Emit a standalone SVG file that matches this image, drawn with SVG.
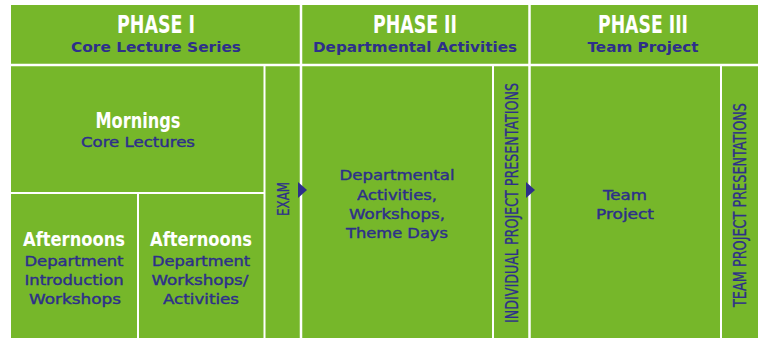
<svg xmlns="http://www.w3.org/2000/svg" width="760" height="338" viewBox="0 0 760 338">
<style>
.bg{fill:#76b72a}
.ln{stroke:#ffffff;stroke-width:2.5;fill:none}
.ln2{stroke:#ffffff;stroke-width:2;fill:none}
.hd{font-family:"DejaVu Sans Condensed","Liberation Sans Narrow","Liberation Sans",sans-serif;font-weight:bold;fill:#ffffff;text-anchor:middle}
.sub{font-family:"DejaVu Sans","Liberation Sans",sans-serif;font-weight:bold;fill:#2d2f8a;text-anchor:middle;font-size:14px}
.bd{font-family:"DejaVu Sans","Liberation Sans",sans-serif;fill:#2d2f8a;stroke:#2d2f8a;stroke-width:0.4;text-anchor:middle;font-size:14px}
.vt{font-family:"DejaVu Sans Condensed","Liberation Sans Narrow","Liberation Sans",sans-serif;fill:#2d2f8a;stroke:#2d2f8a;stroke-width:0.3;text-anchor:middle}
.arr{fill:#2d2f8a}
</style>
<rect class="bg" x="11" y="5" width="747" height="333"/>
<g id="grid">
<line class="ln" x1="11" y1="65" x2="758" y2="65"/>
<line class="ln" x1="301" y1="5" x2="301" y2="338"/>
<line class="ln" x1="529.5" y1="5" x2="529.5" y2="338"/>
<line class="ln2" x1="264.5" y1="65" x2="264.5" y2="338"/>
<line class="ln2" x1="493" y1="65" x2="493" y2="338"/>
<line class="ln2" x1="721" y1="65" x2="721" y2="338"/>
<line class="ln2" x1="11" y1="193" x2="264.5" y2="193"/>
<line class="ln2" x1="138" y1="193" x2="138" y2="338"/>
</g>
<g id="phase1-header">
<text class="hd" x="156" y="33" font-size="25" textLength="78" lengthAdjust="spacingAndGlyphs">PHASE I</text>
<text class="sub" x="156" y="52" textLength="170" lengthAdjust="spacingAndGlyphs">Core Lecture Series</text>
</g>
<g id="phase2-header">
<text class="hd" x="415" y="33" font-size="25" textLength="84" lengthAdjust="spacingAndGlyphs">PHASE II</text>
<text class="sub" x="415" y="52" textLength="204" lengthAdjust="spacingAndGlyphs">Departmental Activities</text>
</g>
<g id="phase3-header">
<text class="hd" x="643" y="33" font-size="25" textLength="90" lengthAdjust="spacingAndGlyphs">PHASE III</text>
<text class="sub" x="643" y="52" textLength="111" lengthAdjust="spacingAndGlyphs">Team Project</text>
</g>
<g id="mornings">
<text class="hd" x="138" y="128" font-size="22" textLength="85" lengthAdjust="spacingAndGlyphs">Mornings</text>
<text class="bd" x="138" y="147" font-size="15" textLength="114" lengthAdjust="spacingAndGlyphs">Core Lectures</text>
</g>
<g id="afternoons-intro">
<text class="hd" x="74" y="246" font-size="20" textLength="102" lengthAdjust="spacingAndGlyphs">Afternoons</text>
<text class="bd" x="74" y="266" textLength="99" lengthAdjust="spacingAndGlyphs">Department</text>
<text class="bd" x="74" y="285" textLength="99" lengthAdjust="spacingAndGlyphs">Introduction</text>
<text class="bd" x="75" y="304" textLength="92" lengthAdjust="spacingAndGlyphs">Workshops</text>
</g>
<g id="afternoons-workshops">
<text class="hd" x="201" y="246" font-size="20" textLength="102" lengthAdjust="spacingAndGlyphs">Afternoons</text>
<text class="bd" x="201" y="266" textLength="98" lengthAdjust="spacingAndGlyphs">Department</text>
<text class="bd" x="200" y="285" textLength="97" lengthAdjust="spacingAndGlyphs">Workshops/</text>
<text class="bd" x="201" y="304" textLength="76" lengthAdjust="spacingAndGlyphs">Activities</text>
</g>
<g id="exam">
<text class="vt" transform="translate(289,199) rotate(-90)" font-size="16" textLength="34" lengthAdjust="spacingAndGlyphs">EXAM</text>
</g>
<g id="departmental-activities">
<text class="bd" x="397" y="180" textLength="115" lengthAdjust="spacingAndGlyphs">Departmental</text>
<text class="bd" x="397" y="199.5" textLength="80" lengthAdjust="spacingAndGlyphs">Activities,</text>
<text class="bd" x="397" y="219" textLength="96" lengthAdjust="spacingAndGlyphs">Workshops,</text>
<text class="bd" x="397" y="238" textLength="102" lengthAdjust="spacingAndGlyphs">Theme Days</text>
</g>
<g id="individual-presentations">
<text class="vt" transform="translate(518,203) rotate(-90)" font-size="17.5" textLength="240" lengthAdjust="spacingAndGlyphs">INDIVIDUAL PROJECT PRESENTATIONS</text>
</g>
<g id="team-project">
<text class="bd" x="625" y="200" textLength="44" lengthAdjust="spacingAndGlyphs">Team</text>
<text class="bd" x="625" y="219" textLength="58" lengthAdjust="spacingAndGlyphs">Project</text>
</g>
<g id="team-presentations">
<text class="vt" transform="translate(746,205) rotate(-90)" font-size="17.5" textLength="204" lengthAdjust="spacingAndGlyphs">TEAM PROJECT PRESENTATIONS</text>
</g>
<g id="connectors">
<polygon class="arr" points="298,182 307,190 298,198"/>
<polygon class="arr" points="526,182 535,190 526,198"/>
</g>
</svg>
